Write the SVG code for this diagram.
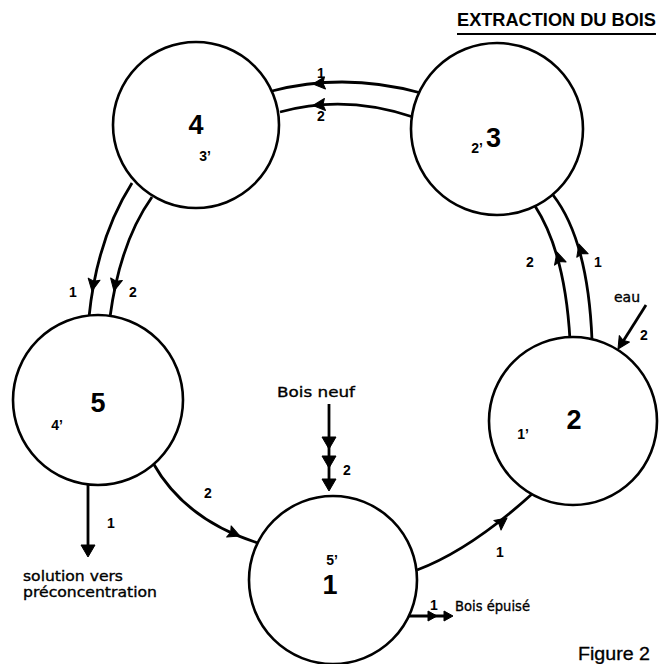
<svg xmlns="http://www.w3.org/2000/svg" xmlns:xlink="http://www.w3.org/1999/xlink" width="662" height="664" viewBox="0 0 662 664">
<style>
.c{fill:#fff;stroke:#000;stroke-width:2.6}
.ln{fill:none;stroke:#000;stroke-width:2.8}
.big{font-family:"Liberation Sans",Arial,sans-serif;font-weight:bold;font-size:27px;fill:#000}
.pr{font-family:"Liberation Sans",Arial,sans-serif;font-weight:bold;font-size:14px;fill:#000;text-anchor:middle}
.lb{font-family:"Liberation Sans",Arial,sans-serif;font-weight:bold;font-size:14px;fill:#000;text-anchor:middle}
.w{font-family:"DejaVu Sans","Liberation Sans",sans-serif;font-size:14px;fill:#000;stroke:#000;stroke-width:0.35}
.t{font-family:"Liberation Sans",Arial,sans-serif;font-weight:bold;font-size:18px;fill:#000}
</style>
<defs>
<path id="ah" d="M0,0 L-12,-6 L-10,0 L-12,6 Z" fill="#000" stroke="#000" stroke-width="1" stroke-linejoin="round"/>
<path id="ahw" d="M0,0 L-12,-7 L-12,7 Z" fill="#000" stroke="#000" stroke-width="1" stroke-linejoin="round"/>
<path id="ahs" d="M0,0 L-9,-5 L-9,5 Z" fill="#000" stroke="#000" stroke-width="1" stroke-linejoin="round"/>
</defs>

<g id="title">
<text class="t" x="457" y="26" textLength="199" lengthAdjust="spacingAndGlyphs">EXTRACTION DU BOIS</text>
<line x1="457" y1="34" x2="656" y2="34" stroke="#000" stroke-width="2"/>
</g>

<g id="connectors">
<!-- 3 -> 4 -->
<path class="ln" d="M272,91 Q345,72 421,93"/>
<path class="ln" d="M280,112 Q345,94 413,117"/>
<use xlink:href="#ah" transform="translate(313,84) rotate(175)"/>
<use xlink:href="#ah" transform="translate(313,105.5) rotate(175)"/>
<text class="lb" x="321" y="78">1</text>
<text class="lb" x="321" y="121">2</text>
<!-- 4 -> 5 -->
<path class="ln" d="M132,183 Q97,238 89,317"/>
<path class="ln" d="M152,197 Q120,242 110,317"/>
<use xlink:href="#ah" transform="translate(92,291) rotate(100)"/>
<use xlink:href="#ah" transform="translate(114,291) rotate(102)"/>
<text class="lb" x="73" y="297">1</text>
<text class="lb" x="133" y="297">2</text>
<!-- 2 -> 3 -->
<path class="ln" d="M570,340 Q565,252 535,206"/>
<path class="ln" d="M592,340 Q588,240 553,195"/>
<use xlink:href="#ah" transform="translate(557,252) rotate(-106)"/>
<use xlink:href="#ah" transform="translate(579,244) rotate(-107)"/>
<text class="lb" x="530" y="267">2</text>
<text class="lb" x="598" y="267">1</text>
<!-- eau -->
<line class="ln" x1="646" y1="305" x2="622" y2="343"/>
<use xlink:href="#ah" transform="translate(618,349) rotate(122)"/>
<text class="w" x="627" y="302" text-anchor="middle" font-size="13">eau</text>
<text class="lb" x="644" y="340">2</text>
<!-- 5 -> 1 -->
<path class="ln" d="M153,463 Q185,520 258,543"/>
<use xlink:href="#ah" transform="translate(240,536) rotate(22)"/>
<text class="lb" x="208" y="498">2</text>
<!-- 5 -> solution -->
<line class="ln" x1="88" y1="484" x2="88" y2="546"/>
<use xlink:href="#ahw" transform="translate(88,557) rotate(90)"/>
<text class="lb" x="111" y="528">1</text>
<text class="w" x="23" y="581" font-size="15" textLength="100" lengthAdjust="spacingAndGlyphs">solution vers</text>
<text class="w" x="23" y="597" font-size="15" textLength="134" lengthAdjust="spacingAndGlyphs">préconcentration</text>
<!-- 1 -> 2 -->
<path class="ln" d="M417,570 Q470,550 532,494"/>
<use xlink:href="#ah" transform="translate(507,518) rotate(-37)"/>
<text class="lb" x="500" y="557">1</text>
<!-- Bois neuf -->
<text class="w" x="277" y="397" font-size="13" textLength="78" lengthAdjust="spacingAndGlyphs">Bois  neuf</text>
<line class="ln" x1="329" y1="404" x2="329" y2="484"/>
<use xlink:href="#ahw" transform="translate(329,449) rotate(90)"/>
<use xlink:href="#ahw" transform="translate(329,468) rotate(90)"/>
<use xlink:href="#ahw" transform="translate(329,491) rotate(90)"/>
<text class="lb" x="347" y="475">2</text>
<!-- Bois epuise -->
<line class="ln" x1="409" y1="616" x2="446" y2="616" stroke-width="2"/>
<use xlink:href="#ahs" transform="translate(437,616)"/>
<use xlink:href="#ahs" transform="translate(453,616)"/>
<text class="lb" x="434" y="610">1</text>
<text class="w" x="455" y="611" font-size="13" textLength="75" lengthAdjust="spacingAndGlyphs">Bois épuisé</text>
</g>

<g id="node4">
<circle class="c" cx="196" cy="125" r="83"/>
<text class="big" x="196" y="134" text-anchor="middle">4</text>
<text class="pr" x="205" y="161">3’</text>
</g>
<g id="node3">
<circle class="c" cx="497" cy="129" r="86"/>
<text class="pr" x="477" y="153">2’</text>
<text class="big" x="486" y="147">3</text>
</g>
<g id="node5">
<circle class="c" cx="98" cy="400" r="85"/>
<text class="big" x="98" y="412" text-anchor="middle">5</text>
<text class="pr" x="57" y="430">4’</text>
</g>
<g id="node2">
<circle class="c" cx="573" cy="421" r="84"/>
<text class="big" x="574" y="429" text-anchor="middle">2</text>
<text class="pr" x="523" y="439">1’</text>
</g>
<g id="node1">
<circle class="c" cx="333" cy="580" r="84"/>
<text class="pr" x="332" y="565">5’</text>
<text class="big" x="330" y="594" text-anchor="middle" font-size="29">1</text>
</g>

<text x="578" y="660" font-family="Liberation Sans, Arial, sans-serif" font-size="18" textLength="72" lengthAdjust="spacingAndGlyphs" fill="#000" stroke="#000" stroke-width="0.3">Figure 2</text>
</svg>
